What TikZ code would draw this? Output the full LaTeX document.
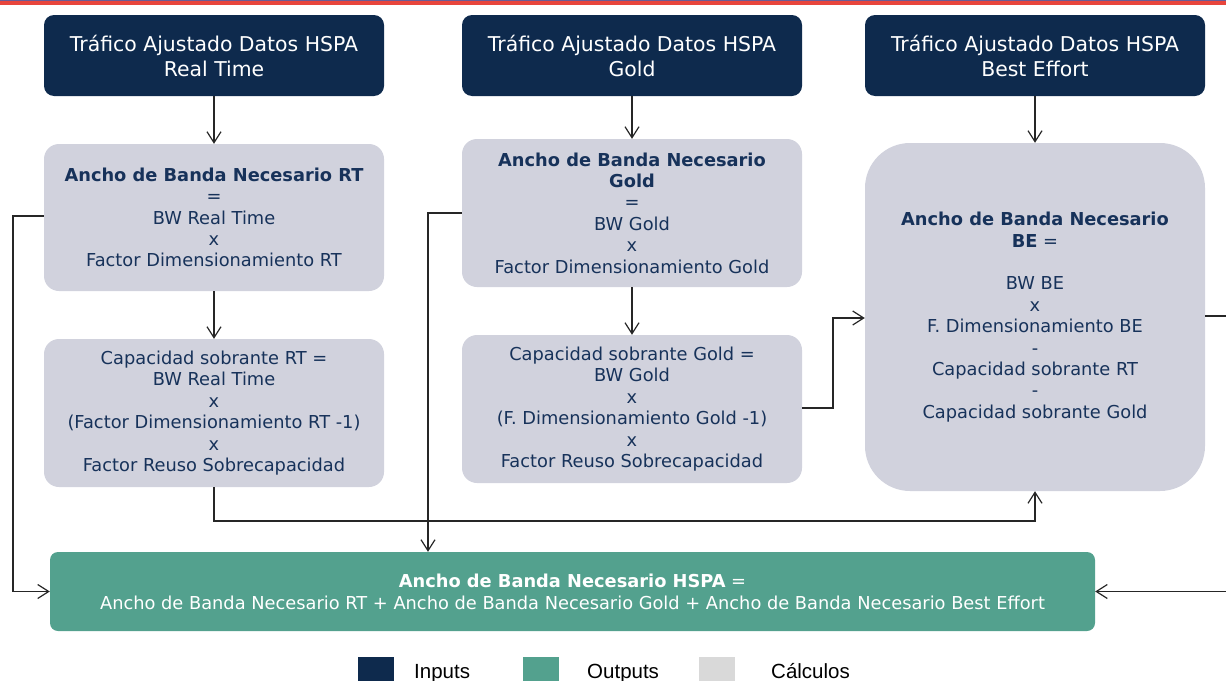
\documentclass[tikz,border=0pt]{standalone}
\usepackage{fontspec}
\setmainfont{DejaVu Sans}
\newfontfamily\legendfont{Liberation Sans}
\usetikzlibrary{arrows.meta}
\definecolor{navy}{HTML}{0E2A4D}
\definecolor{txtnavy}{HTML}{17325A}
\definecolor{calc}{HTML}{D1D2DD}
\definecolor{outc}{HTML}{53A18E}
\definecolor{legcalc}{HTML}{D9D9D9}
\definecolor{topred}{HTML}{E8453C}
\definecolor{topblue}{HTML}{6A5C96}
\definecolor{linec}{HTML}{262626}
\begin{document}
\begin{tikzpicture}[x=1pt,y=-1pt,
  inbox/.style={fill=navy, text=white, rounded corners=10pt, minimum width=340pt, minimum height=81pt, align=center, inner sep=0pt, font=\fontsize{20.4}{25}\selectfont},
  calcbox/.style={fill=calc, text=txtnavy, rounded corners=15pt, minimum width=340pt, minimum height=148pt, align=center, inner sep=0pt, font=\fontsize{17.8}{21.4}\selectfont},
  outbox/.style={fill=outc, text=white, rounded corners=8pt, minimum width=1045pt, minimum height=79pt, align=center, inner sep=0pt, font=\fontsize{17.8}{22}\selectfont},
  conn/.style={draw=linec, line width=1.2pt},
  arr/.style={conn, -{Straight Barb[length=11pt,width=14pt,line width=1.2pt]}},
  legsq/.style={minimum width=36pt, minimum height=26pt, inner sep=0pt, anchor=north west},
  legtxt/.style={font=\legendfont\fontsize{20.5}{24}\selectfont, anchor=base west, inner sep=0pt}
]
\useasboundingbox (0,0) rectangle (1226,680);
\clip (0,0) rectangle (1226,680);
\fill[topblue] (0,0) rectangle (1226,1.4);
\fill[topred] (0,1.4) rectangle (1226,5);

% inputs
\node[inbox] (inRT) at (214,55.5) {Tráfico Ajustado Datos HSPA\\Real Time};
\node[inbox] (inG) at (632,55.5) {Tráfico Ajustado Datos HSPA\\Gold};
\node[inbox] (inBE) at (1035,55.5) {Tráfico Ajustado Datos HSPA\\Best Effort};

% calculations
\node[calcbox, minimum height=147pt] (rt1) at (214,217.5) {\textbf{Ancho de Banda Necesario RT}\\=\\BW Real Time\\x\\Factor Dimensionamiento RT};
\node[calcbox] (rt2) at (214,413) {Capacidad sobrante RT =\\BW Real Time\\x\\(Factor Dimensionamiento RT -1)\\x\\Factor Reuso Sobrecapacidad};
\node[calcbox] (g1) at (632,213) {\textbf{Ancho de Banda Necesario}\\\textbf{Gold}\\=\\BW Gold\\x\\Factor Dimensionamiento Gold};
\node[calcbox] (g2) at (632,409) {Capacidad sobrante Gold =\\BW Gold\\x\\(F. Dimensionamiento Gold -1)\\x\\Factor Reuso Sobrecapacidad};
\node[calcbox, rounded corners=45pt, minimum height=348pt] (be) at (1035,317) {\textbf{Ancho de Banda Necesario}\\\textbf{BE} =\\[21.4pt]BW BE\\x\\F. Dimensionamiento BE\\-\\Capacidad sobrante RT\\-\\Capacidad sobrante Gold};

% output
\node[outbox] (out) at (572.5,591.5) {\textbf{Ancho de Banda Necesario HSPA} =\\Ancho de Banda Necesario RT + Ancho de Banda Necesario Gold + Ancho de Banda Necesario Best Effort};

% connectors
\draw[arr] (inRT.south) -- (rt1.north);
\draw[arr] (rt1.south) -- (rt2.north);
\draw[arr] (inG.south) -- (g1.north);
\draw[arr] (g1.south) -- (g2.north);
\draw[arr] (inBE.south) -- (be.north);

\coordinate (lRT) at (13,216);
\draw[arr] (rt1.west |- lRT) -- (lRT) |- (out.west);
\coordinate (lG) at (428,213);
\draw[arr] (g1.west |- lG) -- (lG) -- (lG |- out.north);
\coordinate (bRT) at (214,521);
\draw[arr] (rt2.south) -- (bRT) -| (be.south);
\coordinate (rG) at (833,408);
\coordinate (rG2) at (833,318);
\draw[arr] (g2.east |- rG) -- (rG) -- (rG2) -- (be.west |- rG2);
\coordinate (rBE) at (1240,316);
\draw[arr] (be.east |- rBE) -- (rBE) |- (out.east);

% legend
\node[legsq, fill=navy] (l1) at (358,657) {};
\node[legtxt] (t1) at (414,678) {Inputs};
\node[legsq, fill=outc] (l2) at (523,657) {};
\node[legtxt] (t2) at (587,678) {Outputs};
\node[legsq, fill=legcalc] (l3) at (699,657) {};
\node[legtxt] (t3) at (771,678) {Cálculos};
\end{tikzpicture}
\end{document}
